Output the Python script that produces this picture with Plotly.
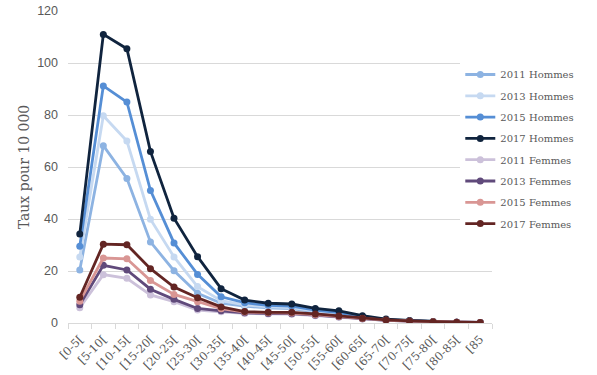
import plotly.graph_objects as go

categories = ["[0-5[", "[5-10[", "[10-15[", "[15-20[", "[20-25[", "[25-30[", "[30-35[",
              "[35-40[", "[40-45[", "[45-50[", "[50-55[", "[55-60[", "[60-65[", "[65-70[",
              "[70-75[", "[75-80[", "[80-85[", "[85"]

h2011 = [20.4, 68.2, 55.6, 31.2, 20.1, 11.4, 7.6, 6.5, 5.8, 5.5, 4.3, 3.4, 2.0, 1.1, 0.8, 0.5, 0.3, 0.2]
h2013 = [25.4, 79.7, 70.0, 39.9, 25.4, 14.0, 8.6, 7.0, 6.2, 5.9, 4.6, 3.7, 2.2, 1.2, 0.8, 0.5, 0.3, 0.2]
h2015 = [29.5, 91.2, 85.0, 51.0, 30.8, 18.7, 10.1, 7.8, 6.8, 6.5, 5.0, 4.0, 2.4, 1.3, 0.9, 0.5, 0.3, 0.2]
h2017 = [34.2, 111.0, 105.5, 66.0, 40.3, 25.5, 13.2, 8.8, 7.6, 7.3, 5.6, 4.7, 2.8, 1.5, 1.0, 0.6, 0.3, 0.2]
f2011 = [5.9, 18.6, 17.2, 10.8, 8.2, 5.0, 4.3, 3.7, 3.5, 3.4, 2.8, 2.2, 1.5, 1.0, 0.7, 0.4, 0.3, 0.2]
f2013 = [7.0, 22.2, 20.4, 13.0, 9.1, 5.6, 4.7, 3.9, 3.7, 3.6, 3.0, 2.4, 1.6, 1.0, 0.7, 0.4, 0.3, 0.2]
f2015 = [8.4, 25.0, 24.7, 16.3, 11.0, 8.2, 5.5, 4.2, 3.9, 3.8, 3.2, 2.5, 1.7, 1.1, 0.7, 0.5, 0.3, 0.2]
f2017 = [9.9, 30.3, 30.1, 20.9, 13.8, 9.7, 6.2, 4.4, 4.1, 4.1, 3.5, 2.7, 1.8, 1.2, 0.8, 0.5, 0.3, 0.2]

series_names = ["2011 Hommes", "2013 Hommes", "2015 Hommes", "2017 Hommes",
                "2011 Femmes", "2013 Femmes", "2015 Femmes", "2017 Femmes"]
series_values = [h2011, h2013, h2015, h2017, f2011, f2013, f2015, f2017]
series_colors = ["#8db3e2", "#c6d9f1", "#558ed5", "#10243e",
                 "#ccc1da", "#604a7b", "#d99694", "#632523"]

fig = go.Figure()
for name, vals, col in zip(series_names, series_values, series_colors):
    fig.add_trace(go.Scatter(
        x=categories, y=vals, name=name, mode="lines+markers",
        line=dict(color=col, width=2.8),
        marker=dict(color=col, size=7),
        legendgroup=name,
    ))

fig.update_layout(
    width=597, height=375,
    margin=dict(l=68, r=105, t=11, b=52, autoexpand=False),
    paper_bgcolor="white", plot_bgcolor="white",
    font=dict(family="DejaVu Serif", color="#595959", size=11),
    legend=dict(xref="container", yref="container", x=0.771, y=1 - 60 / 375,
                xanchor="left", yanchor="top",
                font=dict(family="DejaVu Serif", size=10, color="#595959"),
                tracegroupgap=2.3, bgcolor="rgba(255,255,255,1)"),
    showlegend=True,
)
fig.update_xaxes(
    type="category", range=[-0.5, len(categories) - 0.5],
    tickangle=-45, showgrid=False, automargin=False,
    showline=True, linecolor="#d9d9d9", linewidth=1,
    ticks="outside", tickson="boundaries", ticklen=5, tickcolor="#d9d9d9",
    ticklabelstandoff=4,
    tickfont=dict(family="DejaVu Serif", size=11.5, color="#595959"),
)
fig.update_yaxes(
    range=[0, 120], dtick=20, showgrid=True, gridcolor="#d9d9d9", gridwidth=1,
    zeroline=False, showline=False, automargin=False,
    ticklabelstandoff=9,
    tickfont=dict(family="Liberation Sans", size=12.5, color="#595959"),
    title=dict(text="Taux pour 10 000", font=dict(family="DejaVu Serif", size=14, color="#595959"),
               standoff=4),
)

fig.write_html("out.html", config={"displayModeBar": False},
               post_script="document.body.style.margin='0';")
